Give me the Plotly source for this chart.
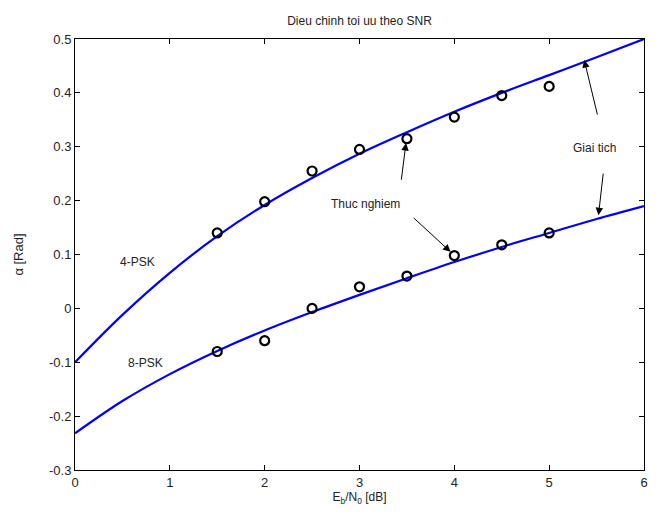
import plotly.graph_objects as go

# Analytical curves (Giai tich)
x_curve = [0, 0.5, 1, 1.5, 2, 2.5, 3, 3.5, 4, 4.5, 5, 5.5, 6]
psk4_curve = [-0.10, -0.012, 0.066, 0.134, 0.192, 0.242, 0.287, 0.327, 0.365, 0.400, 0.433, 0.466, 0.50]
psk8_curve = [-0.232, -0.172, -0.122, -0.079, -0.041, -0.007, 0.025, 0.056, 0.086, 0.114, 0.140, 0.166, 0.19]

# Experimental points (Thuc nghiem)
x_pts = [1.5, 2, 2.5, 3, 3.5, 4, 4.5, 5]
psk4_pts = [0.14, 0.198, 0.255, 0.295, 0.315, 0.355, 0.395, 0.412]
psk8_pts = [-0.08, -0.06, 0.0, 0.04, 0.06, 0.098, 0.118, 0.14]

x_ticks = [0, 1, 2, 3, 4, 5, 6]
y_ticks = [-0.3, -0.2, -0.1, 0, 0.1, 0.2, 0.3, 0.4, 0.5]
y_tick_text = ["-0.3", "-0.2", "-0.1", "0", "0.1", "0.2", "0.3", "0.4", "0.5"]

FONT = "Liberation Sans, Arial, sans-serif"
BLUE = "rgb(0,0,255)"

fig = go.Figure()
for yc in (psk4_curve, psk8_curve):
    fig.add_trace(go.Scatter(x=x_curve, y=yc, mode="lines",
                             line=dict(color=BLUE, width=2.2, shape="spline", smoothing=1.0),
                             showlegend=False, hoverinfo="skip"))
for yp in (psk4_pts, psk8_pts):
    fig.add_trace(go.Scatter(x=x_pts, y=yp, mode="markers",
                             marker=dict(symbol="circle-open", size=9, color="black",
                                         line=dict(width=2.2, color="black")),
                             showlegend=False, hoverinfo="skip"))

ann = []
# Text labels
ann.append(dict(x=0.66, y=0.086, text="4-PSK", showarrow=False))
ann.append(dict(x=0.74, y=-0.101, text="8-PSK", showarrow=False))
ann.append(dict(x=3.06, y=0.194, text="Thuc nghiem", showarrow=False))
ann.append(dict(x=5.48, y=0.298, text="Giai tich", showarrow=False))
# Arrows: head at (x,y), tail at (ax,ay)
arrows = [
    (3.49, 0.307, 3.43, 0.223),
    (3.96, 0.105, 3.54, 0.173),
    (5.37, 0.461, 5.53, 0.344),
    (5.52, 0.173, 5.58, 0.266),
]
for hx, hy, tx, ty in arrows:
    ann.append(dict(x=hx, y=hy, ax=tx, ay=ty, xref="x", yref="y", axref="x", ayref="y",
                    text=" ", showarrow=True, arrowhead=2, arrowsize=1.5, arrowwidth=1,
                    arrowcolor="black", standoff=0, startstandoff=0))
for a in ann:
    a.setdefault("xref", "x")
    a.setdefault("yref", "y")
    a["font"] = dict(family=FONT, size=12, color="#222")

fig.update_layout(
    width=659, height=518,
    margin=dict(l=75, r=11, t=39, b=48),
    paper_bgcolor="white", plot_bgcolor="white",
    font=dict(family=FONT, size=12, color="#222"),
    title=dict(text="Dieu chinh toi uu theo SNR", x=0.5, xanchor="center",
               xref="paper", y=1 - 21 / 518, yanchor="middle",
               font=dict(family=FONT, size=12, color="#222")),
    annotations=ann,
)
fig.update_xaxes(range=[0, 6], tickvals=x_ticks, ticks="inside", ticklen=5,
                 tickcolor="black", showline=True, linecolor="black", linewidth=1,
                 mirror="ticks", showgrid=False, zeroline=False,
                 tickfont=dict(family=FONT, size=13, color="#222"),
                 title=dict(text="E<sub>b</sub>/N<sub>0</sub> [dB]", standoff=4,
                            font=dict(family=FONT, size=12, color="#222")))
fig.update_yaxes(range=[-0.3, 0.5], tickvals=y_ticks, ticktext=y_tick_text,
                 ticks="inside", ticklen=5, tickcolor="black", showline=True,
                 linecolor="black", linewidth=1, mirror="ticks", showgrid=False,
                 zeroline=False,
                 tickfont=dict(family=FONT, size=13, color="#222"),
                 title=dict(text="α [Rad]", standoff=22,
                            font=dict(family=FONT, size=13, color="#222")))

fig.write_html("out.html")
